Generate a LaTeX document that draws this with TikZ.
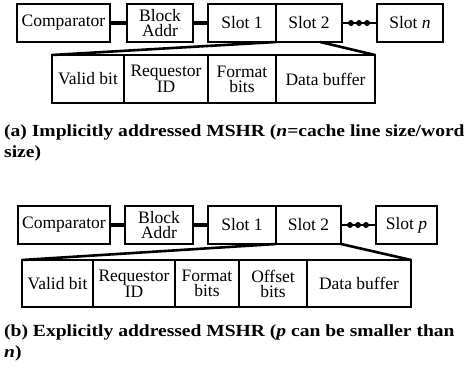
\documentclass[tikz,border=0pt]{standalone}
\usepackage{fontspec}
\setmainfont{Liberation Serif}
\newfontfamily\capfont[FakeStretch=1.15]{Liberation Serif}
\usetikzlibrary{calc}

\tikzset{
	field/.style={draw, line width=2.6pt, inner sep=0pt, outer sep=0pt, anchor=north west, align=center, font=\fontsize{17.5}{15}\selectfont},
	link/.style={line width=3.2pt},
	fan/.style={line width=2.6pt},
	dot/.style={fill=black},
	caption/.style={anchor=base west, inner sep=0pt, align=left, font=\capfont\fontsize{17}{21}\selectfont\bfseries},
}

\begin{document}
\begin{tikzpicture}[x=1pt, y=-1pt]
			\useasboundingbox (0,0) rectangle (466,372);
			
			%%%%% (a) implicit %%%%%
			\node[field, minimum width=93, minimum height=38] (cmpa) at (17,4) {Comparator};
			\node[field, minimum width=66, minimum height=38] (blka) at (127,4) {Block\\Addr};
			\node[field, minimum width=68, minimum height=38] (slotia) at (208,4) {Slot 1};
			\node[field, minimum width=66, minimum height=38] (slotiia) at (276,4) {Slot 2};
			\node[field, minimum width=66, minimum height=38] (slotna) at (377,4) {Slot \textit{n}};
			
			\draw[link] (cmpa.east) -- (blka.west);
			\draw[link] (blka.east) -- (slotia.west);
			\draw[line width=1.6pt] (slotiia.east) -- (slotna.west);
			\foreach \x in {351,359,367}
				\fill[dot] (\x,23) circle (3);
			
			\node[field, minimum width=72, minimum height=48] (vbita) at (52,55) {Valid bit};
			\node[field, minimum width=84, minimum height=48] (reqa) at (124,55) {Requestor\\ID};
			\node[field, minimum width=68, minimum height=48] (fmta) at (208,55) {Format\\bits};
			\node[field, minimum width=99, minimum height=48] (bufa) at (276,55) {Data buffer};
			
			\draw[fan] (vbita.north west) -- (slotiia.south west);
			\draw[fan] ($(slotiia.south west)!0.67!(slotiia.south east)$) -- (bufa.north east);
			
			% base of a two-line node sits on its last line
			\node[caption] (capa) at (4,157) {(a) Implicitly addressed MSHR (\textit{n}=cache line size/word\\size)};
			
			%%%%% (b) explicit %%%%%
			\node[field, minimum width=92, minimum height=38] (cmpb) at (18,206) {Comparator};
			\node[field, minimum width=68, minimum height=38] (blkb) at (125,206) {Block\\Addr};
			\node[field, minimum width=68, minimum height=38] (slotib) at (208,206) {Slot 1};
			\node[field, minimum width=65, minimum height=38] (slotiib) at (276,206) {Slot 2};
			\node[field, minimum width=61, minimum height=38] (slotpb) at (376,206) {Slot \textit{p}};
			
			\draw[link] (cmpb.east) -- (blkb.west);
			\draw[link] (blkb.east) -- (slotib.west);
			\draw[line width=1.6pt] (slotiib.east) -- (slotpb.west);
			\foreach \x in {350,358,366}
				\fill[dot] (\x,225) circle (3);
			
			\node[field, minimum width=71, minimum height=47] (vbitb) at (22,260) {Valid bit};
			\node[field, minimum width=82, minimum height=47] (reqb) at (93,260) {Requestor\\ID};
			\node[field, minimum width=64, minimum height=47] (fmtb) at (175,260) {Format\\bits};
			\node[field, minimum width=68, minimum height=47] (offb) at (239,260) {Offset\\bits};
			\node[field, minimum width=104, minimum height=47] (bufb) at (307,260) {Data buffer};
			
			\draw[fan] (vbitb.north west) -- (slotiib.south west);
			\draw[fan] (slotiib.south east) -- (bufb.north east);
			
			\node[caption] (capb) at (4,357) {(b) Explicitly addressed MSHR (\textit{p} can be smaller than\\\textit{n})};
\end{tikzpicture}
\end{document}
